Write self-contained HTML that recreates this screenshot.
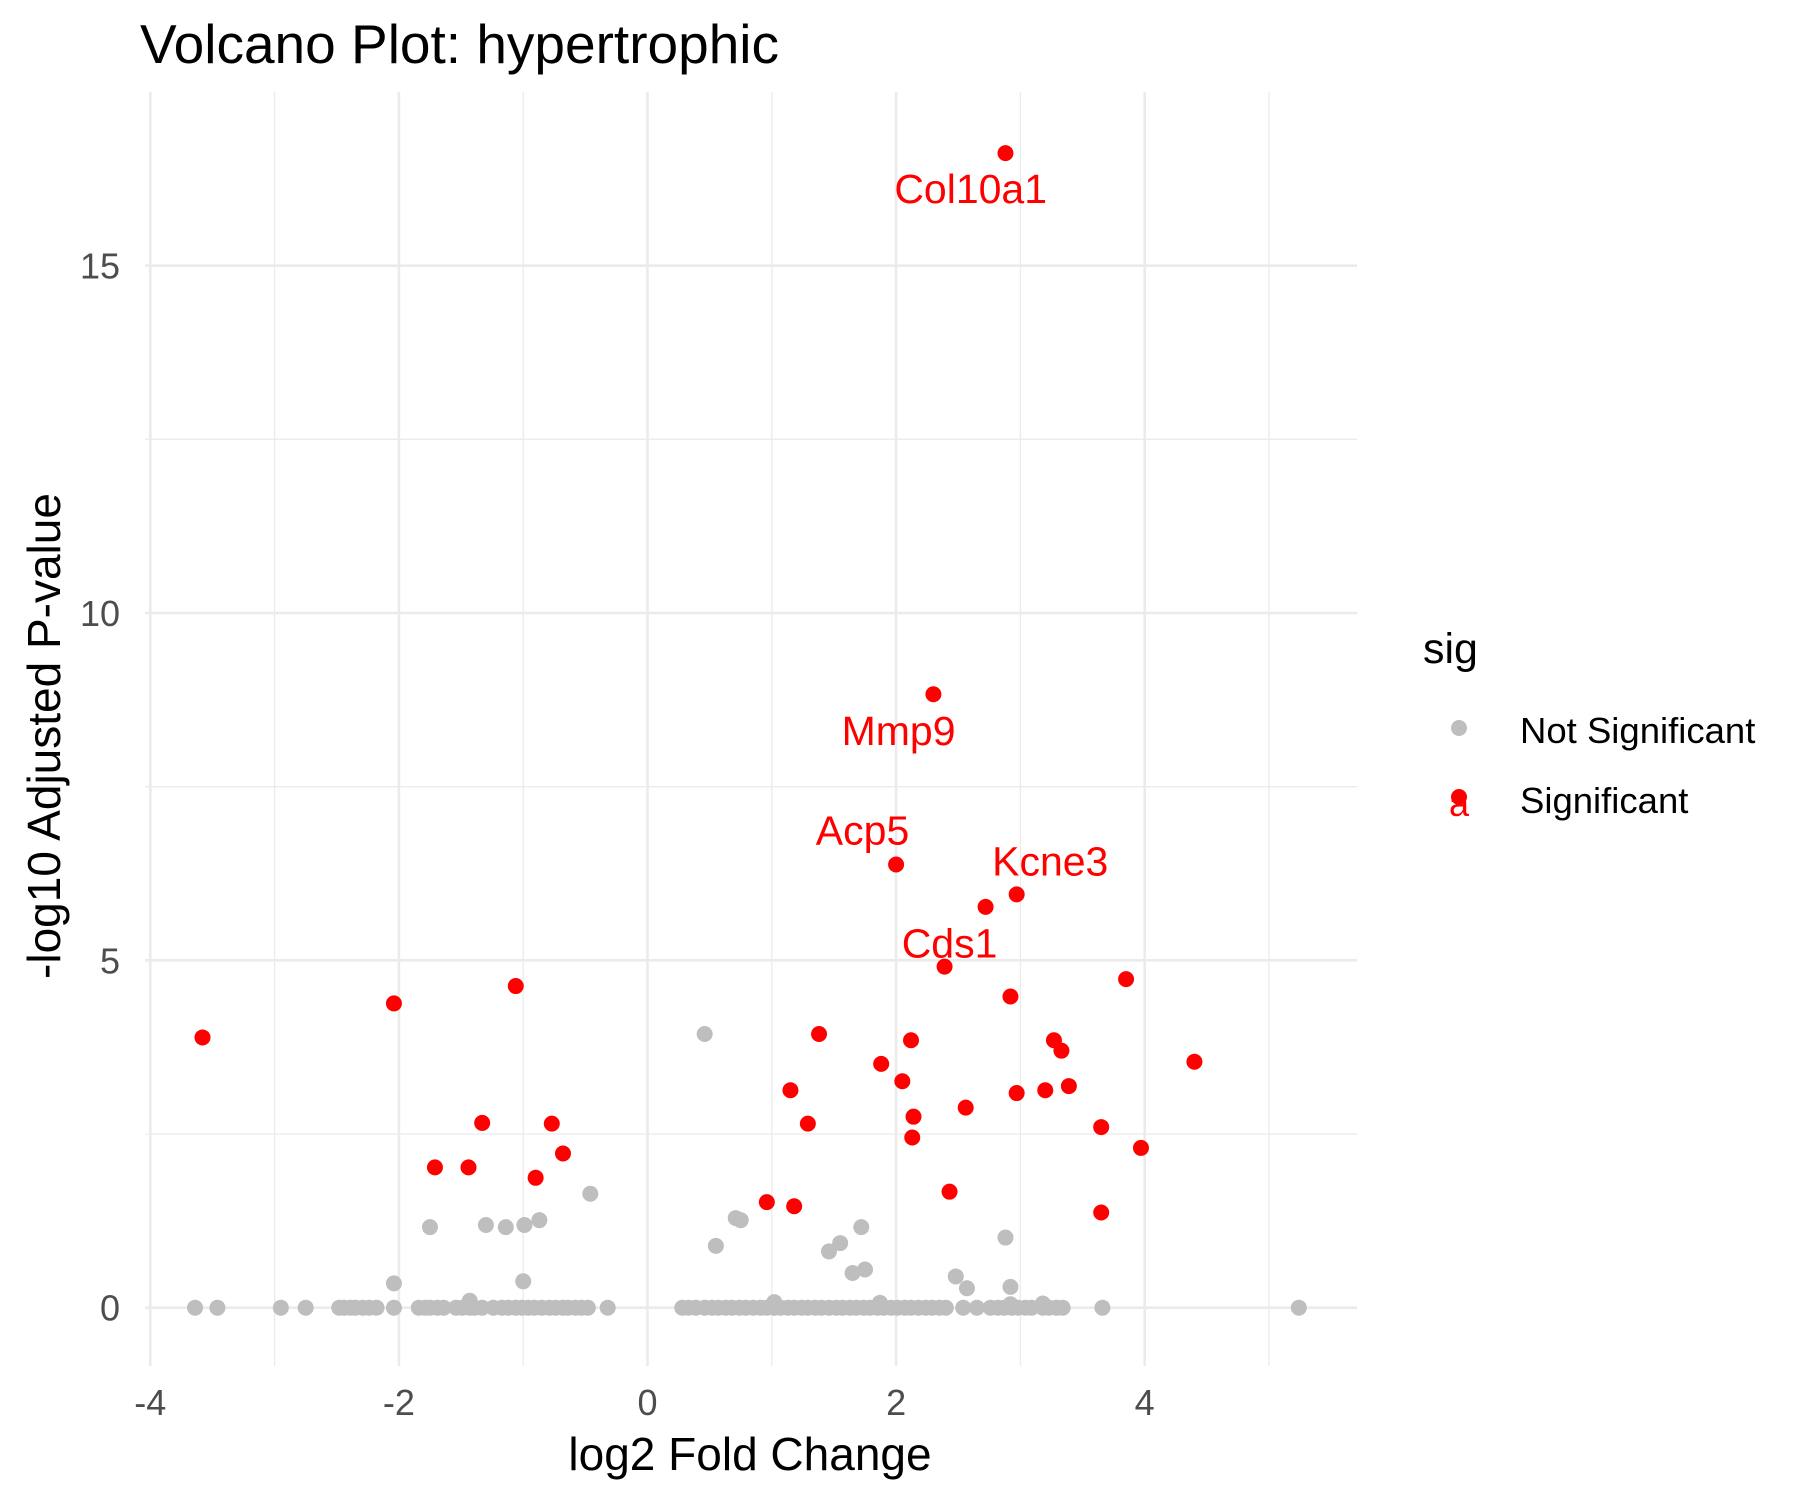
<!DOCTYPE html>
<html><head><meta charset="utf-8"><style>
html,body{margin:0;padding:0;background:#fff;}
svg{display:block;font-family:"Liberation Sans",Arial,sans-serif;}
</style></head><body>
<svg id="chart" width="1800" height="1500" viewBox="0 0 1800 1500" xmlns="http://www.w3.org/2000/svg">
<rect width="1800" height="1500" fill="#fff"/>
<text x="140" y="63" font-size="55" fill="#000">Volcano Plot: hypertrophic</text>
<g id="grid"></g>
<g id="points"></g>
<g id="labels"></g>
<g id="axes"></g>
<text x="750" y="1470" font-size="46" text-anchor="middle" fill="#000">log2 Fold Change</text>
<text transform="translate(60,736) rotate(-90)" font-size="46" text-anchor="middle" fill="#000">-log10 Adjusted P-value</text>
<g>
<text x="1423" y="663" font-size="43" fill="#000">sig</text>
<circle cx="1459" cy="728" r="8" fill="#bebebe"/>
<text x="1520" y="743" font-size="36.5" fill="#000">Not Significant</text>
<circle cx="1459" cy="797" r="8" fill="#ff0000"/>
<text x="1459" y="816" font-size="36" text-anchor="middle" fill="#ff0000">a</text>
<text x="1520" y="813" font-size="36.5" fill="#000">Significant</text>
</g>
</svg>
<script>
const xTicks = [-4, -2, 0, 2, 4];
const xMinor = [-3, -1, 1, 3, 5];
const yTicks = [0, 5, 10, 15];
const yMinor = [2.5, 7.5, 12.5];
const sigX = [2.88,2.30,2.00,2.97,2.72,2.39,3.85,2.92,-1.06,-2.04,-3.58,1.38,2.12,3.27,3.33,1.88,4.40,2.05,3.39,1.15,3.20,2.97,2.56,2.14,1.29,-1.33,-0.77,3.65,2.13,3.97,-0.68,-1.71,-1.44,-0.90,2.43,0.96,1.18,3.65];
const sigY = [16.62,8.83,6.38,5.95,5.77,4.91,4.73,4.48,4.63,4.38,3.89,3.94,3.85,3.85,3.70,3.51,3.54,3.26,3.19,3.13,3.13,3.09,2.88,2.75,2.65,2.66,2.65,2.60,2.45,2.30,2.22,2.02,2.02,1.87,1.67,1.52,1.46,1.37];
const nsX = [0.46,-0.46,-0.87,-0.99,-1.14,-1.30,-1.75,0.71,0.75,1.72,2.88,1.55,1.46,0.55,1.75,1.65,2.48,-2.04,-1.00,2.57,2.92,-1.43,1.02,1.87,3.18,2.92,
-3.64,-3.46,-2.95,-2.75,-2.48,-2.44,-2.39,-2.35,-2.29,-2.24,-2.18,-2.04,-1.84,-1.79,-1.75,-1.69,-1.64,-1.54,-1.49,-1.43,-1.39,-1.33,-1.24,-1.17,-1.12,-1.06,-1.01,-0.96,-0.91,-0.85,-0.79,-0.74,-0.68,-0.64,-0.58,-0.53,-0.48,-0.32,
0.28,0.33,0.39,0.46,0.52,0.57,0.63,0.68,0.74,0.79,0.85,0.91,0.96,1.02,1.07,1.13,1.18,1.24,1.29,1.35,1.40,1.46,1.52,1.57,1.63,1.68,1.74,1.79,1.85,1.90,1.96,2.01,2.07,2.12,2.18,2.24,2.29,2.35,2.40,2.54,2.65,2.76,2.82,2.87,2.93,2.98,3.04,3.09,3.18,3.23,3.29,3.34,3.66,5.24];
const nsY = [3.94,1.64,1.26,1.19,1.16,1.19,1.16,1.29,1.26,1.16,1.01,0.93,0.81,0.89,0.55,0.50,0.45,0.35,0.38,0.28,0.30,0.10,0.08,0.07,0.06,0.05,
0,0,0,0,0,0,0,0,0,0,0,0,0,0,0,0,0,0,0,0,0,0,0,0,0,0,0,0,0,0,0,0,0,0,0,0,0,0,
0,0,0,0,0,0,0,0,0,0,0,0,0,0,0,0,0,0,0,0,0,0,0,0,0,0,0,0,0,0,0,0,0,0,0,0,0,0,0,0,0,0,0,0,0,0,0,0,0,0,0,0,0,0,0];
const geneNames = ["Col10a1","Mmp9","Acp5","Kcne3","Cds1"];
const geneX = [2.60,2.02,1.73,3.24,2.43];
const geneY = [16.1,8.3,6.87,6.42,5.24];

const NS = "http://www.w3.org/2000/svg";
const X0 = 647.5, XU = 124.3, Y0 = 1307.7, YU = 69.47;
const PL = 145, PR = 1357, PT = 92, PB = 1366;
function sx(v){ return X0 + v*XU; }
function sy(v){ return Y0 - v*YU; }
function mk(tag, attrs, parent){
  const e = document.createElementNS(NS, tag);
  for (const k in attrs) e.setAttribute(k, attrs[k]);
  parent.appendChild(e);
  return e;
}
const grid = document.getElementById('grid');
const axes = document.getElementById('axes');
xMinor.forEach(v => {
  const l = mk('line', {x1:sx(v), x2:sx(v), y1:PT, y2:PB, stroke:'#ebebeb', 'stroke-width':1.3}, grid);
  
  
});
yMinor.forEach(v => {
  const l = mk('line', {x1:PL, x2:PR, y1:sy(v), y2:sy(v), stroke:'#ebebeb', 'stroke-width':1.3}, grid);
  
  
});
xTicks.forEach(v => {
  const l = mk('line', {x1:sx(v), x2:sx(v), y1:PT, y2:PB, stroke:'#ebebeb', 'stroke-width':2.6}, grid);
  
  
  const t = mk('text', {x:sx(v), y:1415, 'font-size':36, 'text-anchor':'middle', fill:'#4d4d4d'}, axes);
  t.textContent = v;
  
  
});
yTicks.forEach(v => {
  const l = mk('line', {x1:PL, x2:PR, y1:sy(v), y2:sy(v), stroke:'#ebebeb', 'stroke-width':2.6}, grid);
  
  
  const t = mk('text', {x:120, y:sy(v)+13, 'font-size':36, 'text-anchor':'end', fill:'#4d4d4d'}, axes);
  t.textContent = v;
  
  
});
const pts = document.getElementById('points');
nsX.forEach((v,i) => {
  const c = mk('circle', {cx:sx(v), cy:sy(nsY[i]), r:8, fill:'#bebebe'}, pts);
  
  
});
sigX.forEach((v,i) => {
  const c = mk('circle', {cx:sx(v), cy:sy(sigY[i]), r:8, fill:'#ff0000'}, pts);
  
  
});
const labs = document.getElementById('labels');
geneNames.forEach((n,i) => {
  const t = mk('text', {x:sx(geneX[i]), y:sy(geneY[i])+14, 'font-size':41, 'text-anchor':'middle', fill:'#ff0000'}, labs);
  t.textContent = n;
  
  
});
</script>
</body></html>
